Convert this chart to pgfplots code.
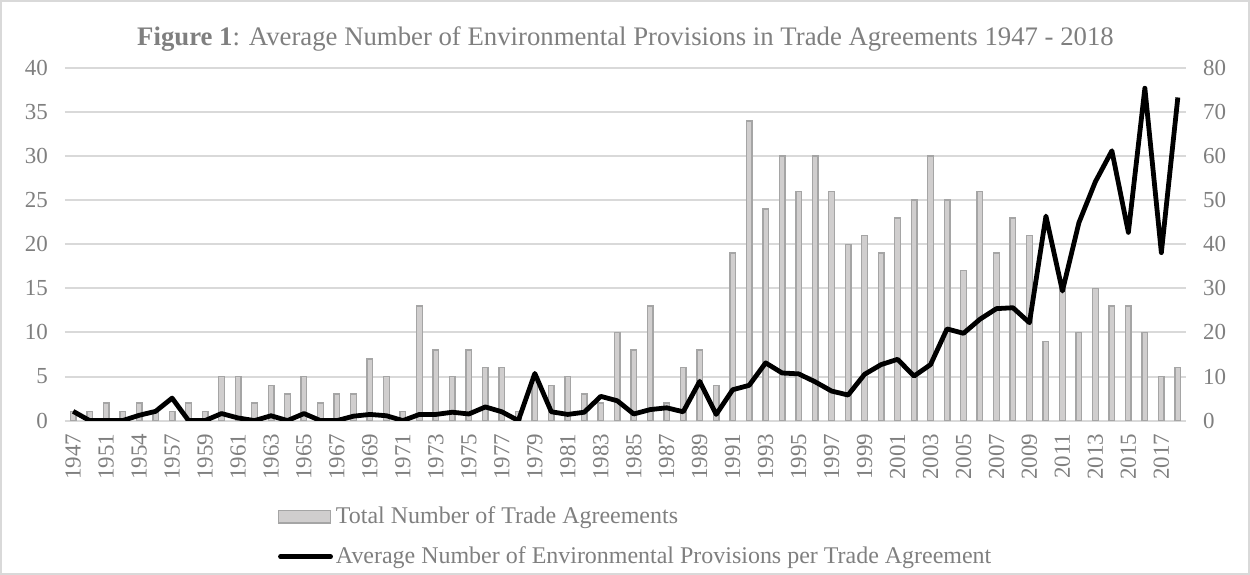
\documentclass[border=0pt]{standalone}
\usepackage{pgfplots}
\pgfplotsset{compat=1.18}
\usepackage{pgfplotstable}
\usepackage{fontspec}
\setmainfont{Liberation Serif}
\definecolor{txt}{HTML}{7F7F7F}
\definecolor{grid}{HTML}{D9D9D9}
\definecolor{barfill}{HTML}{D0CECE}
\definecolor{bardraw}{HTML}{A5A5A5}

\pgfplotstableread{
x bars line
0 1 2.1
1 1 0
2 2 0
3 1 0
4 2 1.2
5 1 2.1
6 1 5.1
7 2 0
8 1 0
9 5 1.6
10 5 0.6
11 2 0
12 4 1.1
13 3 0
14 5 1.6
15 2 0
16 3 0
17 3 1.0
18 7 1.4
19 5 1.1
20 1 0
21 13 1.4
22 8 1.4
23 5 1.9
24 8 1.5
25 6 3.1
26 6 2.0
27 1 0
28 5 10.7
29 4 2.0
30 5 1.4
31 3 1.9
32 2 5.5
33 10 4.5
34 8 1.5
35 13 2.5
36 2 2.9
37 6 2.0
38 8 8.9
39 4 1.4
40 19 7.0
41 34 8.0
42 24 13.1
43 30 10.8
44 26 10.6
45 30 8.8
46 26 6.7
47 20 5.8
48 21 10.5
49 19 12.7
50 23 13.9
51 25 10.1
52 30 12.7
53 25 20.8
54 17 19.8
55 26 23.0
56 19 25.4
57 23 25.6
58 21 22.2
59 9 46.4
60 15 29.4
61 10 44.9
62 15 54.2
63 13 61.2
64 13 42.7
65 10 75.4
66 5 38.1
67 6 73.3
}\datatable

\begin{document}
\begin{tikzpicture}
\pgfplotsset{
  base/.style={
    scale only axis, width=559.5bp, height=176bp,
    xmin=-0.5, xmax=67.5,
    major tick length=0pt, minor tick length=0pt,
    /pgf/number format/assume math mode=true,
    ticklabel style={font=\fontsize{11.5}{13}\selectfont, text=txt},
  }
}
\begin{axis}[base, name=ax,
  ymin=0, ymax=40, ytick={0,5,...,40},
  axis x line*=bottom, axis y line*=left,
  axis line style={draw=none},
  x axis line style={draw=grid, line width=1pt},
  xmajorgrids=false, ymajorgrids=true,
  y grid style={grid, line width=1pt},
  yticklabel style={xshift=-5bp},
  xtick={0,2,...,66},
  xticklabels={1947,1951,1954,1957,1959,1961,1963,1965,1967,1969,1971,1973,1975,1977,1979,1981,1983,1985,1987,1989,1991,1993,1995,1997,1999,2001,2003,2005,2007,2009,2011,2013,2015,2017},
  xticklabel style={rotate=90, anchor=east, xshift=-3bp},
]
\addplot[ybar, bar width=0.34, fill=barfill, draw=bardraw, line width=0.7pt] table[x=x, y=bars] {\datatable};
\end{axis}
\begin{axis}[base,
  ymin=0, ymax=80, ytick={0,10,...,80},
  axis y line*=right, axis x line*=bottom,
  axis line style={draw=none},
  xtick=\empty,
  yticklabel style={xshift=5bp},
  legend style={at={(0.1895,-0.235)}, anchor=north west, draw=none, fill=none,
    font=\fontsize{12}{14}\selectfont, text=txt, row sep=7bp,
    cells={anchor=west}, inner sep=0pt, nodes={inner sep=1.5bp}},
  legend cell align=left,
]
\addlegendimage{legend image code/.code={\draw[fill=barfill, draw=bardraw, line width=0.7pt] (0bp,-3bp) rectangle (26bp,3bp);}}
\addlegendentry{Total Number of Trade Agreements}
\addplot[black, line width=2.4pt, line join=round, mark=none,
  legend image code/.code={\draw[black, line width=2.4pt, line cap=round] (1bp,0bp) -- (26bp,0bp);}] table[x=x, y=line] {\datatable};
\addlegendentry{Average Number of Environmental Provisions per Trade Agreement}
\end{axis}
\node[text=txt, font=\fontsize{13.4}{15}\selectfont] at ([yshift=14.5bp]ax.north) {\textbf{Figure 1}: Average Number of Environmental Provisions in Trade Agreements 1947 - 2018};
\draw[grid, line width=0.8pt] ([shift={(-32bp,-76.5bp)}]ax.south west) rectangle ([shift={(31.5bp,33.5bp)}]ax.north east);
\end{tikzpicture}
\end{document}
